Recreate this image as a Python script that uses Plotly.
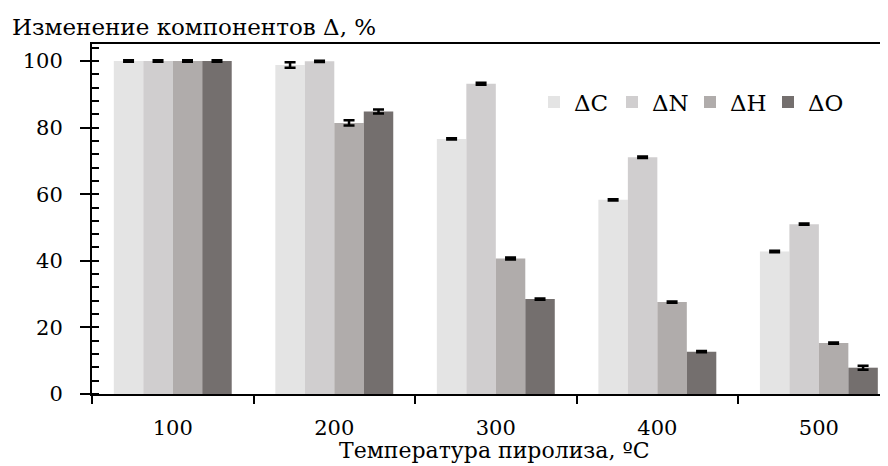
import plotly.graph_objects as go

categories = ["100", "200", "300", "400", "500"]
series_names = ["ΔC", "ΔN", "ΔH", "ΔO"]
dC = [100.0, 98.8, 76.6, 58.3, 42.8]
dN = [100.0, 99.9, 93.2, 71.1, 51.0]
dH = [100.0, 81.4, 40.7, 27.6, 15.3]
dO = [100.0, 84.8, 28.5, 12.7, 7.9]
eC = [0.2, 0.8, 0.2, 0.2, 0.2]
eN = [0.2, 0.2, 0.3, 0.2, 0.2]
eH = [0.2, 0.8, 0.3, 0.2, 0.2]
eO = [0.2, 0.6, 0.2, 0.2, 0.6]
colors = ["#e4e4e4", "#d0cecf", "#b0acab", "#746f6e"]

FONT = "'DejaVu Serif', 'Liberation Serif', serif"
xpos = list(range(len(categories)))

# page has an 8px body margin: figure is 880x458 placed at (8, 8)
L, T, B = 84, 36, 64 + 8
fig = go.Figure()
for name, vals, errs, col in zip(series_names, [dC, dN, dH, dO], [eC, eN, eH, eO], colors):
    fig.add_trace(go.Bar(
        x=xpos, y=vals, name=name, marker=dict(color=col, line=dict(width=0)),
        error_y=dict(type="data", array=errs, visible=True, color="black",
                     thickness=2.5, width=5.5),
    ))

fig.update_layout(
    width=880, height=458,
    margin=dict(l=L, r=0, t=T, b=B, autoexpand=False),
    paper_bgcolor="white", plot_bgcolor="white",
    font=dict(family=FONT, size=21, color="black"),
    barmode="group", bargap=0.27, bargroupgap=0,
    showlegend=True,
    legend=dict(orientation="h", x=(534 - 92) / 796, y=(394 - 102) / 350,
                xanchor="left", yanchor="middle",
                font=dict(family=FONT, size=23), bgcolor="rgba(0,0,0,0)",
                itemwidth=30, entrywidth=33, entrywidthmode="pixels"),
    xaxis=dict(range=[-0.5, 4.428], tickvals=xpos, ticktext=categories,
               ticks="", showgrid=False, zeroline=False, automargin=False,
               showline=True, linecolor="black", linewidth=2, mirror=True,
               ticklabelstandoff=14,
               minor=dict(tick0=-0.5, dtick=1, ticks="outside", ticklen=8,
                          tickwidth=2, tickcolor="black", showgrid=False)),
    xaxis2=dict(overlaying="x", matches="x", anchor="y", side="bottom",
                range=[-0.5, 4.428], tickmode="linear", tick0=-0.5, dtick=1,
                ticks="inside", ticklen=7, tickwidth=2, tickcolor="black", automargin=False,
                showticklabels=False, showgrid=False, zeroline=False, showline=False),
    yaxis=dict(range=[0, 105.1], tickvals=[0, 20, 40, 60, 80, 100],
               ticks="outside", ticklen=10, tickwidth=2, tickcolor="black",
               showgrid=False, zeroline=False, showline=True, linecolor="black",
               linewidth=2, ticklabelstandoff=13, automargin=False,
               minor=dict(dtick=4, ticks="inside", ticklen=7, tickwidth=2,
                          tickcolor="black", showgrid=False)),
    annotations=[
        dict(text="Изменение компонентов Δ, %", xref="paper", yref="paper",
             x=(10 - 92) / 796, y=1 + 17 / 350, xanchor="left", yanchor="middle",
             showarrow=False, font=dict(family=FONT, size=23)),
        dict(text="Температура пиролиза, ºC", xref="paper", yref="paper",
             x=(494 - 92) / 796, y=-(450 - 394) / 350, xanchor="center", yanchor="middle",
             showarrow=False, font=dict(family=FONT, size=22)),
    ],
)

fig.write_html("out.html")
